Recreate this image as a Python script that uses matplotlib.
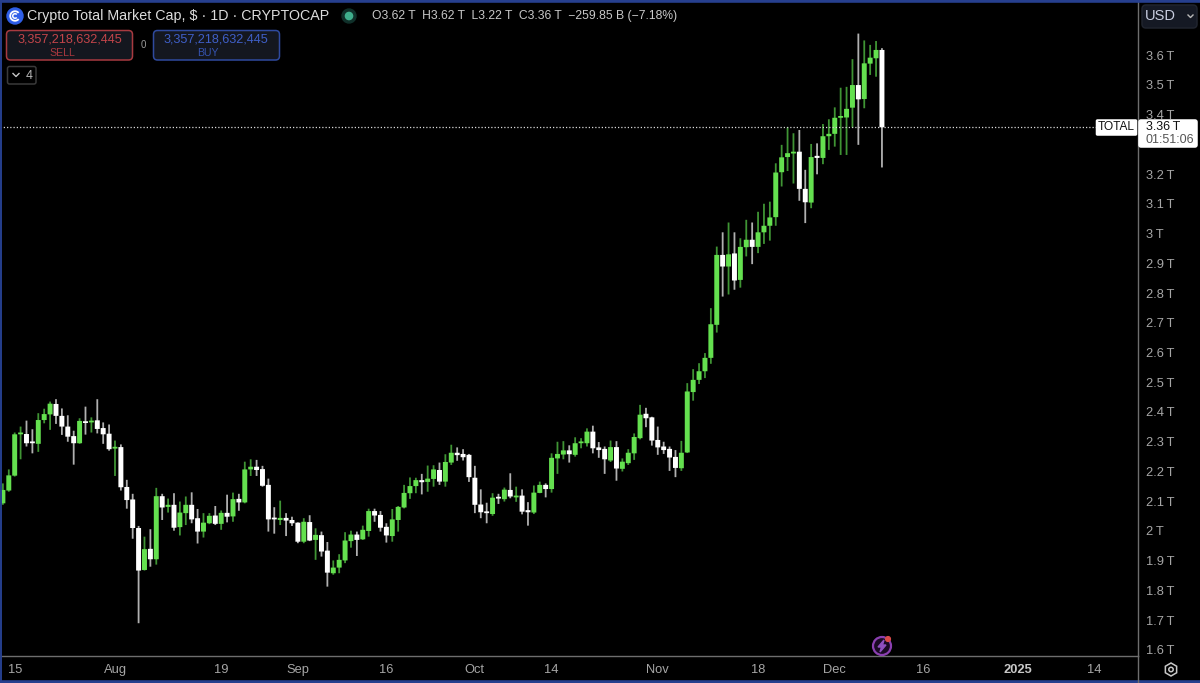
import numpy as np
import matplotlib
matplotlib.use("Agg")
import matplotlib.pyplot as plt
from matplotlib.patches import FancyBboxPatch, Circle, RegularPolygon, Polygon, Arc

# daily candles in trillions of USD, first one is Jul 13 2024
opens = [2.093,2.136,2.186,2.325,2.326,2.299,2.293,2.373,2.392,2.427,
         2.387,2.351,2.319,2.295,2.369,2.365,2.372,2.346,2.327,2.277,
         2.282,2.148,2.106,2.010,1.869,1.940,1.905,2.117,2.081,2.088,
         2.013,2.060,2.088,2.043,1.998,2.026,2.052,2.024,2.061,2.049,
         2.108,2.096,2.207,2.216,2.208,2.155,2.043,2.037,2.044,2.037,
         2.028,1.964,2.030,1.970,1.986,1.934,1.858,1.877,1.901,1.966,
         1.988,1.972,2.000,2.067,2.054,2.014,1.983,2.037,2.079,2.127,
         2.151,2.171,2.165,2.175,2.205,2.166,2.230,2.263,2.259,2.256,
         2.179,2.089,2.064,2.057,2.113,2.107,2.138,2.113,2.119,2.070,
         2.062,2.128,2.155,2.141,2.244,2.257,2.271,2.256,2.295,2.295,
         2.334,2.281,2.276,2.237,2.282,2.209,2.228,2.261,2.312,2.394,
         2.382,2.306,2.284,2.276,2.249,2.211,2.264,2.467,2.508,2.537,
         2.582,2.693,2.928,2.889,2.933,2.844,2.954,2.979,2.955,3.004,
         3.026,3.055,3.206,3.257,3.269,3.275,3.150,3.104,3.261,3.254,
         3.327,3.335,3.389,3.390,3.423,3.499,3.452,3.571,3.589,3.617]
highs = [2.160,2.207,2.331,2.351,2.371,2.342,2.396,2.411,2.435,2.443,
         2.412,2.389,2.337,2.379,2.418,2.382,2.443,2.365,2.358,2.304,
         2.291,2.172,2.125,2.017,1.981,2.006,2.145,2.125,2.109,2.127,
         2.099,2.116,2.130,2.074,2.060,2.060,2.084,2.069,2.122,2.129,
         2.125,2.233,2.241,2.239,2.219,2.176,2.080,2.102,2.060,2.048,
         2.029,2.043,2.053,2.009,1.998,1.963,1.901,1.922,1.996,2.001,
         1.998,2.018,2.075,2.075,2.067,2.026,2.074,2.084,2.155,2.180,
         2.179,2.192,2.220,2.221,2.230,2.258,2.290,2.281,2.275,2.259,
         2.219,2.140,2.095,2.127,2.125,2.146,2.194,2.149,2.140,2.097,
         2.153,2.166,2.160,2.261,2.300,2.302,2.288,2.315,2.312,2.345,
         2.354,2.299,2.284,2.304,2.302,2.244,2.275,2.328,2.424,2.414,
         2.384,2.351,2.300,2.284,2.272,2.303,2.497,2.544,2.564,2.598,
         2.749,2.956,3.004,3.037,3.004,2.984,3.046,3.037,3.073,3.100,
         3.107,3.236,3.298,3.357,3.337,3.348,3.214,3.301,3.303,3.368,
         3.384,3.424,3.490,3.493,3.586,3.672,3.649,3.634,3.647,3.623]
lows = [2.088,2.132,2.183,2.241,2.284,2.261,2.266,2.362,2.340,2.360,
        2.323,2.300,2.223,2.293,2.324,2.331,2.328,2.293,2.270,2.185,
        2.136,2.075,1.974,1.690,1.867,1.880,1.887,2.037,2.062,2.001,
        1.985,2.020,2.026,1.958,1.978,2.023,2.020,2.004,2.029,2.031,
        2.068,2.093,2.185,2.185,2.149,1.998,1.991,2.020,1.983,2.017,
        1.959,1.959,1.966,1.903,1.914,1.813,1.853,1.858,1.892,1.944,
        1.916,1.970,1.981,2.031,1.998,1.961,1.964,1.998,2.076,2.108,
        2.127,2.123,2.132,2.149,2.155,2.149,2.222,2.236,2.237,2.165,
        2.060,2.043,2.026,2.051,2.091,2.099,2.110,2.098,2.056,2.018,
        2.057,2.127,2.113,2.129,2.192,2.241,2.230,2.250,2.278,2.284,
        2.261,2.246,2.192,2.232,2.169,2.200,2.222,2.239,2.308,2.349,
        2.287,2.256,2.259,2.202,2.181,2.202,2.262,2.438,2.494,2.514,
        2.562,2.667,2.788,2.795,2.811,2.818,2.923,2.897,2.934,2.965,
        2.976,3.026,3.158,3.210,3.168,3.110,3.035,3.085,3.199,3.233,
        3.281,3.292,3.264,3.264,3.356,3.298,3.421,3.533,3.527,3.222]
closes = [2.138,2.187,2.325,2.328,2.295,2.295,2.373,2.393,2.428,2.387,
          2.351,2.317,2.295,2.370,2.363,2.371,2.343,2.325,2.275,2.282,
          2.147,2.104,2.010,1.867,1.939,1.905,2.117,2.079,2.088,2.011,
          2.062,2.088,2.039,1.998,2.028,2.051,2.024,2.061,2.048,2.107,
          2.096,2.207,2.216,2.205,2.152,2.039,2.039,2.044,2.035,2.026,
          1.964,2.031,1.968,1.987,1.931,1.860,1.877,1.903,1.968,1.988,
          1.970,2.004,2.067,2.052,2.011,1.985,2.039,2.081,2.128,2.151,
          2.171,2.164,2.176,2.207,2.166,2.232,2.263,2.255,2.248,2.181,
          2.088,2.063,2.060,2.112,2.109,2.139,2.116,2.118,2.065,2.063,
          2.129,2.155,2.141,2.246,2.259,2.271,2.258,2.295,2.300,2.334,
          2.278,2.272,2.241,2.282,2.210,2.233,2.263,2.316,2.391,2.379,
          2.304,2.281,2.272,2.247,2.212,2.263,2.469,2.508,2.537,2.582,
          2.695,2.928,2.889,2.930,2.842,2.955,2.979,2.955,3.004,3.026,
          3.054,3.205,3.256,3.270,3.275,3.150,3.105,3.257,3.254,3.327,
          3.335,3.389,3.392,3.419,3.499,3.451,3.572,3.591,3.617,3.357]

last_price = 3.358
price_ticks = [3.6,3.5,3.4,3.2,3.1,3.0,2.9,2.8,2.7,2.6,2.5,2.4,2.3,2.2,2.1,2.0,1.9,1.8,1.7,1.6]
price_labels = ["3.6\u2009T","3.5\u2009T","3.4\u2009T","3.2\u2009T","3.1\u2009T","3\u2009T","2.9\u2009T",
                "2.8\u2009T","2.7\u2009T","2.6\u2009T","2.5\u2009T","2.4\u2009T","2.3\u2009T","2.2\u2009T",
                "2.1\u2009T","2\u2009T","1.9\u2009T","1.8\u2009T","1.7\u2009T","1.6\u2009T"]
# days after Jul 13 2024
date_ticks = [2,19,37,50,65,80,93,111,128,141,156,172,185]
date_labels = ["15","Aug","19","Sep","16","Oct","14","Nov","18","Dec","16","2025","14"]

plt.rcParams['font.family'] = ['Liberation Sans', 'DejaVu Sans']

fig = plt.figure(figsize=(12, 6.83), dpi=100, facecolor="black")
W, H = 1200.0, 683.0
ax = fig.add_axes([0, (H-656)/H, 1138/W, 656/H], facecolor="black")

days = np.arange(len(opens))
o = np.array(opens)
c = np.array(closes)
up = c >= o
green = "#64e04f"
white = "#ffffff"

w1 = ax.vlines(days[up], np.array(lows)[up], np.array(highs)[up], color="#3f9434", lw=1.3, zorder=2)
w2 = ax.vlines(days[~up], np.array(lows)[~up], np.array(highs)[~up], color="#b0b0b0", lw=1.3, zorder=2)
w1.set_snap(False)
w2.set_snap(False)
# doji bodies still need a visible height
tops = np.maximum(o, c)
bots = np.minimum(o, c)
hgt = np.maximum(tops-bots, 0.006)
b1 = ax.bar(days[up], hgt[up], bottom=bots[up], width=0.84, color=green, zorder=3)
b2 = ax.bar(days[~up], hgt[~up], bottom=bots[~up], width=0.84, color=white, zorder=3)
for p in list(b1) + list(b2):
    p.set_snap(False)

ax.axhline(last_price, color="#d8d8d8", lw=0.9, ls=(0, (1, 1.6)), zorder=4)

ax.set_xlim(-0.49, 192.4)
ax.set_ylim(1.5798, 3.7849)
ax.yaxis.tick_right()
ax.set_yticks(price_ticks)
ax.set_yticklabels(price_labels, color="#a6a6a6", fontsize=9.3)
ax.set_xticks(date_ticks)
ax.set_xticklabels(date_labels, color="#a6a6a6", fontsize=9.3)
for lab in ax.get_xticklabels():
    if lab.get_text() == "2025":
        lab.set_fontweight("bold")
        lab.set_color("#c8c8c8")
ax.tick_params(axis="y", length=0, pad=6)
ax.tick_params(axis="x", length=0, pad=6)
for s in ["top", "left"]:
    ax.spines[s].set_visible(False)
for s in ["right", "bottom"]:
    ax.spines[s].set_color("#6e6e6e")
    ax.spines[s].set_linewidth(1)

# overlay in pixel coordinates for the header and the little widgets
ov = fig.add_axes([0, 0, 1, 1], facecolor="none")
ov.set_xlim(0, W)
ov.set_ylim(H, 0)
ov.axis("off")

blue = "#263f8e"
ov.plot([0, W], [1, 1], color=blue, lw=2.6)
ov.plot([0, W], [681.5, 681.5], color=blue, lw=2.6)
ov.plot([0.6, 0.6], [0, H], color=blue, lw=1.4)
ov.plot([1138, 1138], [656, 683], color="#6e6e6e", lw=1)

# logo
ov.add_patch(Circle((15, 16), 8, color="#2f5fe8"))
ov.add_patch(Arc((15, 16), 9.5, 9.5, theta1=40, theta2=320, color="white", lw=1.3))
ov.add_patch(Arc((15, 16), 4.5, 4.5, theta1=40, theta2=320, color="white", lw=1.1))
ov.text(27, 16, "Crypto Total Market Cap, $ · 1D · CRYPTOCAP", color="#dcdcdc", fontsize=10.25,
        va="center", ha="left")
ov.add_patch(Circle((349, 16), 7, color="#10302a"))
ov.add_patch(Circle((349, 16), 3.6, color="#3fae8c"))
ov.text(372, 16, "O3.62 T  H3.62 T  L3.22 T  C3.36 T  −259.85 B (−7.18%)", color="#c8c8c8",
        fontsize=8.75, va="center", ha="left")


def box(x0, y0, x1, y1, edge, face, r=4, lw=1.1):
    ov.add_patch(FancyBboxPatch((x0+r, y0+r), x1-x0-2*r, y1-y0-2*r, boxstyle="round,pad=%d,rounding_size=%d" % (r, r),
                                ec=edge, fc=face, lw=lw, zorder=5))


box(6.5, 30.5, 132.5, 60, "#a83a40", "#14171f")
ov.text(70, 40, "3,357,218,632,445", color="#c4454a", fontsize=9.1, ha="center", va="center", zorder=6)
ov.text(62, 52.5, "SELL", color="#a8383e", fontsize=7.6, ha="center", va="center", zorder=6)
box(153.5, 30.5, 279.5, 60, "#2f4a9e", "#14171f")
ov.text(216, 40, "3,357,218,632,445", color="#3f5fc8", fontsize=9.1, ha="center", va="center", zorder=6)
ov.text(208, 52.5, "BUY", color="#3553b0", fontsize=7.6, ha="center", va="center", zorder=6)
ov.text(143, 45, "0", color="#9a9a9a", fontsize=7, ha="center", va="center")

box(7.5, 66.5, 36, 84, "#3a3a3a", "#000000", r=2)
ov.plot([13, 16, 19], [73.5, 76.5, 73.5], color="#c8c8c8", lw=1, zorder=6)
ov.text(29, 76, "4", color="#b8b8b8", fontsize=9, ha="center", va="center", zorder=6)

box(1142, 5, 1197, 28, "#20242e", "#151924")
ov.text(1145, 16, "USD", color="#c8cde0", fontsize=10.5, ha="left", va="center", zorder=6)
ov.plot([1188, 1190.5, 1193], [15, 17.5, 15], color="#b8b8b8", lw=1, zorder=6)

box(1096.5, 120, 1136.5, 135, "white", "white", r=1)
ov.text(1116.5, 127.5, "TOTAL", color="#111111", fontsize=8.6, ha="center", va="center", zorder=6)
box(1139, 120, 1197, 147, "white", "white", r=2)
ov.text(1146, 127.5, "3.36\u2009T", color="#111111", fontsize=9, ha="left", va="center", zorder=6)
ov.text(1146, 140, "01:51:06", color="#555555", fontsize=9, ha="left", va="center", zorder=6)

# lightning icon
ov.add_patch(Circle((882, 646), 9, fc="#1a0a24", ec="#8a3fb0", lw=1.6))
ov.add_patch(Polygon([[884, 640], [878, 647], [881.5, 647], [880, 652], [886, 645], [882.5, 645]], color="#8f4fc0"))
ov.add_patch(Circle((888, 639), 2.4, color="#d84a4a"))

# settings icon
ov.add_patch(RegularPolygon((1171, 669.5), 6, radius=6.5, orientation=0, fc="none", ec="#c8c8c8", lw=1.1))
ov.add_patch(Circle((1171, 669.5), 2.2, fc="none", ec="#c8c8c8", lw=1.1))

fig.savefig("out.png", dpi=100, facecolor="black")
